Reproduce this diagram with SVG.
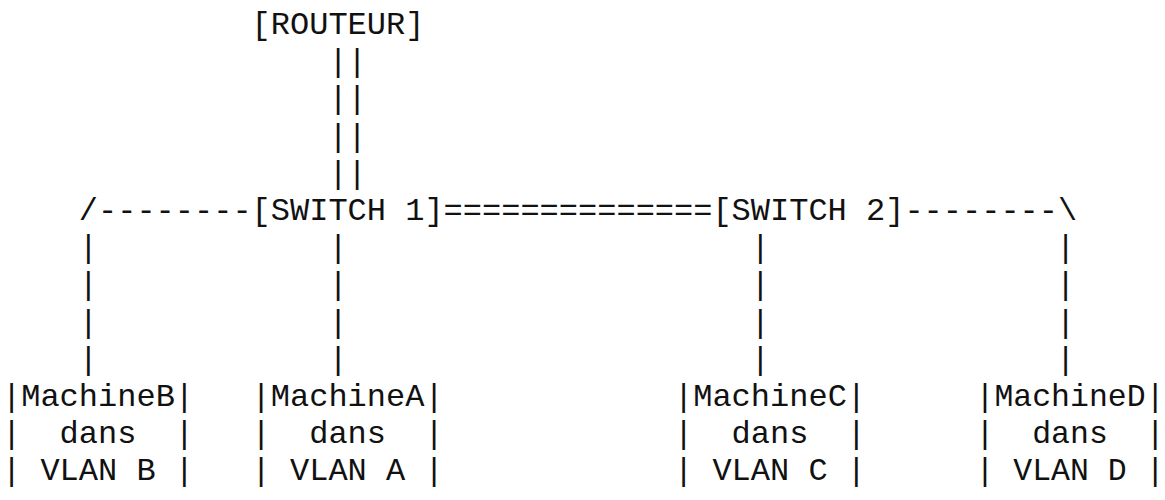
<svg xmlns="http://www.w3.org/2000/svg" width="1165" height="500" viewBox="0 0 1165 500">
<style>
text{font-family:"Liberation Mono","DejaVu Sans Mono",monospace;font-size:32px;fill:#111;white-space:pre}
#machineD text{font-size:31.5px}
</style>
<rect width="1165" height="500" fill="#fff"/>
<g id="connectors">
<text x="328.4" y="71.2">||</text>
<text x="328.4" y="108.4">||</text>
<text x="328.4" y="145.6">||</text>
<text x="328.4" y="182.8">||</text>
<text x="78.8" y="220">/--------</text>
<text x="443.6" y="220">==============</text>
<text x="904.4" y="220">--------\</text>
<g id="drops">
<text x="78.8" y="257.2">|</text><text x="328.4" y="257.2">|</text><text x="750.8" y="257.2">|</text><text x="1056" y="257.2">|</text>
<text x="78.8" y="294.4">|</text><text x="328.4" y="294.4">|</text><text x="750.8" y="294.4">|</text><text x="1056" y="294.4">|</text>
<text x="78.8" y="331.6">|</text><text x="328.4" y="331.6">|</text><text x="750.8" y="331.6">|</text><text x="1056" y="331.6">|</text>
<text x="78.8" y="368.8">|</text><text x="328.4" y="368.8">|</text><text x="750.8" y="368.8">|</text><text x="1056" y="368.8">|</text>
</g>
</g>
<g id="routeur"><text x="251.6" y="34">[ROUTEUR]</text></g>
<g id="switch1"><text x="251.6" y="220">[SWITCH 1]</text></g>
<g id="switch2"><text x="712.4" y="220">[SWITCH 2]</text></g>
<g id="machineB">
<text x="2" y="406">|MachineB|</text>
<text x="2" y="443.2">|  dans  |</text>
<text x="2" y="480.4">| VLAN B |</text>
</g>
<g id="machineA">
<text x="251.6" y="406">|MachineA|</text>
<text x="251.6" y="443.2">|  dans  |</text>
<text x="251.6" y="480.4">| VLAN A |</text>
</g>
<g id="machineC">
<text x="674" y="406">|MachineC|</text>
<text x="674" y="443.2">|  dans  |</text>
<text x="674" y="480.4">| VLAN C |</text>
</g>
<g id="machineD">
<text x="975.5" y="406">|MachineD|</text>
<text x="975.5" y="443.2">|  dans  |</text>
<text x="975.5" y="480.4">| VLAN D |</text>
</g>
</svg>
